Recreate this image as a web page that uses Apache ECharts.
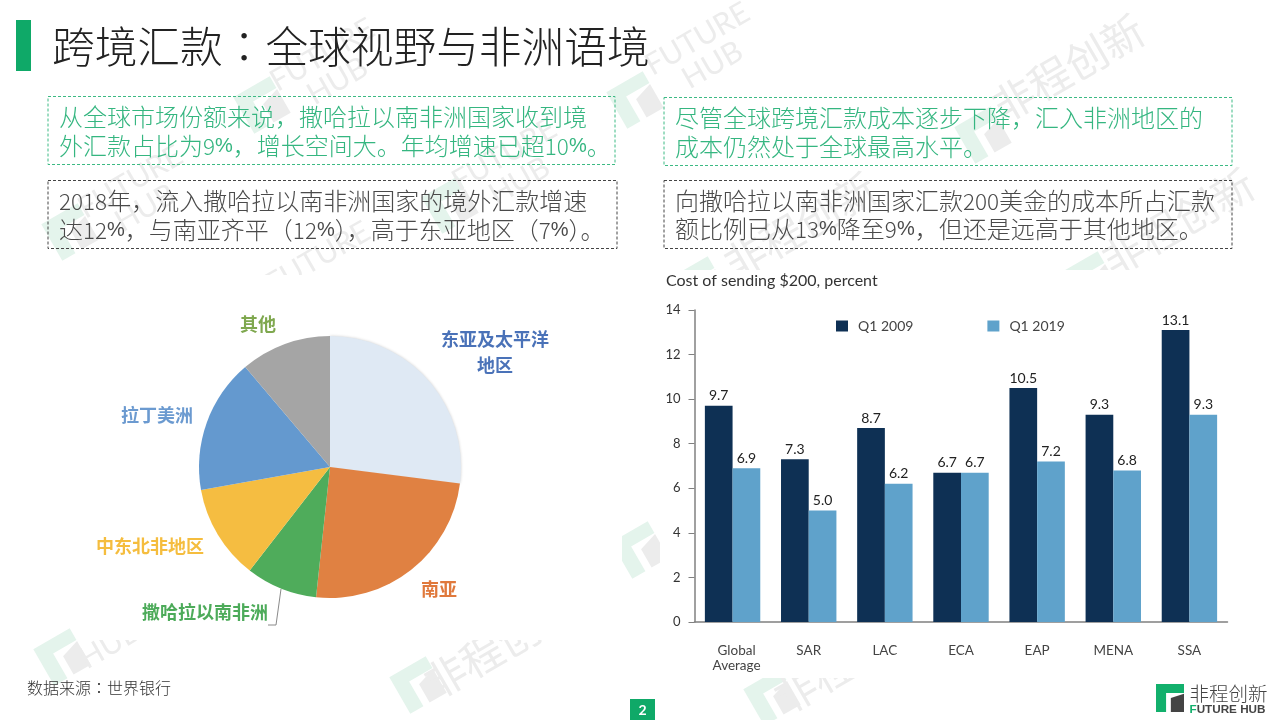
<!DOCTYPE html>
<html>
<head>
<meta charset="utf-8">
<script src="https://cdn.jsdelivr.net/npm/echarts@6/dist/echarts.min.js"></script>
<style>
html, body { margin: 0; padding: 0; background: #fff; }
#main { width: 1280px; height: 720px; }
</style>
</head>
<body>
<div id="main"></div>
<script>
// pie: share of remittance inflows
var regions = ['东亚及太平洋\n地区', '南亚', '撒哈拉以南非洲', '中东北非地区', '拉丁美洲', '其他'];
var regionShares = [27, 24.7, 8.8, 11.7, 16.6, 11.2];

// bars: cost of sending $200
var corridors = ['Global\nAverage', 'SAR', 'LAC', 'ECA', 'EAP', 'MENA', 'SSA'];
var q12009 = [9.7, 7.3, 8.7, 6.7, 10.5, 9.3, 13.1];
var q12019 = [6.9, 5.0, 6.2, 6.7, 7.2, 6.8, 9.3];

var green = '#0fa968';
var cjk = '"Noto Sans CJK SC", sans-serif';
var latin = 'Lato, sans-serif';

var sliceColors = ['#dfe9f4', '#e08142', '#4fac5b', '#f5bd41', '#6499cf', '#a5a5a5'];
var labelColors = ['#4a72b8', '#e0793c', '#4dab5a', '#f5bd3e', '#6b9ad0', '#7fa84f'];
var labelPos = [[495, 352], [439, 589], [205, 612], [150, 546], [157, 415], [258, 324]];

var elements = [];

function poly(points, fill, x, y, size, rot, z) {
    elements.push({
        type: 'polygon',
        x: x, y: y, rotation: rot || 0,
        z: z || 0,
        shape: { points: points.map(function (p) { return [(p[0] - 0.5) * size, (p[1] - 0.5) * size]; }) },
        style: { fill: fill }
    });
}

var logoGreen = [[0, 0], [1, 0], [1, 0.32], [0.36, 0.32], [0.36, 1], [0, 1]];
var logoGray = [[0.53, 0.5], [1, 0.35], [1, 1], [0.53, 1]];

// faint watermark stamps behind the text
function logoMark(x, y) {
    poly(logoGreen, '#e4f4ec', x, y, 42, Math.PI / 6);
    poly(logoGray, '#ececec', x, y, 42, Math.PI / 6);
}

function markText(x, y, str, size) {
    elements.push({
        type: 'text', x: x, y: y, rotation: Math.PI / 6,
        style: { text: str, fill: '#ececec', font: size + 'px ' + (size > 30 ? cjk : latin), align: 'center', verticalAlign: 'middle', lineHeight: size }
    });
}

logoMark(262, 105); markText(330, 68, 'FUTURE\nHUB', 30);
logoMark(635, 100); markText(705, 52, 'FUTURE\nHUB', 30);
logoMark(983, 135); markText(1068, 68, '非程创新', 42);
logoMark(70, 232); markText(138, 195, 'FUTURE\nHUB', 30);
logoMark(450, 205); markText(512, 168, 'FUTURE\nHUB', 30);
markText(318, 258, 'FUTURE', 30);
logoMark(700, 285); markText(800, 226, '非程创新', 42);
logoMark(1090, 280); markText(1178, 222, '非程创新', 42);
logoMark(640, 550); markText(700, 515, '非程', 42);
logoMark(62, 657); markText(110, 645, 'HUB', 30);
logoMark(418, 685); markText(500, 645, '非程创新', 42);
logoMark(772, 697); markText(850, 660, '非程创新', 42);

// the two charts sit on opaque white panels
elements.push({ type: 'rect', shape: { x: 92, y: 275, width: 530, height: 365 }, style: { fill: '#fff' } });
elements.push({ type: 'rect', shape: { x: 660, y: 270, width: 580, height: 408 }, style: { fill: '#fff' } });

// header
elements.push({ type: 'rect', shape: { x: 16, y: 20, width: 15, height: 51 }, style: { fill: green } });
elements.push({
    type: 'text', x: 52, y: 47,
    style: {
        text: '{a|跨境汇款}{c|：}{a|全球视野与非洲语境}',
        verticalAlign: 'middle',
        rich: {
            a: { font: '300 42.7px ' + cjk, fill: '#222' },
            c: { font: '300 42.7px "Noto Sans CJK TC", sans-serif', fill: '#222' }
        }
    }
});

// digits and the percent sign run narrower than the CJK text in the original
function richLine(line) {
    return line.replace(/[0-9]+/g, '{n|$&}').replace(/%/g, '{p|%}');
}

function noteBox(x, y, w, h, color, stroke, lines, lineYs) {
    elements.push({
        type: 'rect',
        shape: { x: x, y: y, width: w, height: h },
        style: { fill: 'transparent', stroke: stroke, lineWidth: 1, lineDash: [3, 2] }
    });
    lines.forEach(function (line, i) {
        elements.push({
            type: 'text', x: x + 11, y: lineYs[i],
            style: {
                text: richLine(line),
                fill: color,
                font: '300 24px ' + cjk,
                verticalAlign: 'middle',
                rich: {
                    n: { font: '300 22.5px ' + cjk, fill: color },
                    p: { font: '20px "Liberation Sans Narrow", sans-serif', fill: color }
                }
            }
        });
    });
}

noteBox(48, 96.5, 567, 68, '#35b680', '#3dba84',
    ['从全球市场份额来说，撒哈拉以南非洲国家收到境', '外汇款占比为9%，增长空间大。年均增速已超10%。'], [117, 146]);
noteBox(48, 180.5, 569, 68, '#4a4a4a', '#444',
    ['2018年，流入撒哈拉以南非洲国家的境外汇款增速', '达12%，与南亚齐平（12%），高于东亚地区（7%）。'], [201, 230]);
noteBox(664, 97.5, 568, 68, '#35b680', '#3dba84',
    ['尽管全球跨境汇款成本逐步下降，汇入非洲地区的', '成本仍然处于全球最高水平。'], [118, 147]);
noteBox(664, 180.5, 568, 68, '#4a4a4a', '#444',
    ['向撒哈拉以南非洲国家汇款200美金的成本所占汇款', '额比例已从13%降至9%，但还是远高于其他地区。'], [201, 229]);

// footer
elements.push({
    type: 'text', x: 27, y: 688,
    style: {
        text: '{a|数据来源}{c|：}{a|世界银行}',
        verticalAlign: 'middle',
        rich: {
            a: { font: '300 16px ' + cjk, fill: '#333' },
            c: { font: '300 16px "Noto Sans CJK TC", sans-serif', fill: '#333' }
        }
    }
});
elements.push({ type: 'rect', shape: { x: 630, y: 699, width: 25, height: 21 }, style: { fill: green } });
elements.push({
    type: 'text', x: 642.5, y: 710,
    style: { text: '2', fill: '#fff', font: 'bold 14px ' + latin, align: 'center', verticalAlign: 'middle' }
});

// corner logo
poly(logoGreen, '#12b06c', 1170, 698, 28);
poly(logoGray, '#444', 1170, 698, 28);
elements.push({
    type: 'text', x: 1189.5, y: 694,
    style: { text: '非程创新', fill: '#444', font: '300 19.5px ' + cjk, verticalAlign: 'middle' }
});
elements.push({
    type: 'text', x: 1189.5, y: 709.5,
    style: {
        text: '{f|F}{r|UTURE HUB}',
        verticalAlign: 'middle',
        rich: {
            f: { font: 'bold 11.7px "Liberation Sans", sans-serif', fill: '#12b06c' },
            r: { font: 'bold 11.7px "Liberation Sans", sans-serif', fill: '#444' }
        }
    }
});

function valueLabel() {
    return {
        show: true,
        position: 'top',
        distance: 3,
        color: '#222',
        fontFamily: latin,
        fontSize: 14,
        formatter: function (p) { return p.value.toFixed(1); }
    };
}

var option = {
    animation: false,
    backgroundColor: '#fff',
    graphic: { elements: elements },
    title: {
        text: 'Cost of sending $200, percent',
        left: 666,
        top: 273,
        padding: 0,
        textStyle: { color: '#333', fontFamily: latin, fontSize: 16, fontWeight: 'normal' }
    },
    legend: {
        left: 836,
        top: 319,
        padding: 0,
        itemWidth: 12,
        itemHeight: 11,
        itemGap: 74,
        icon: 'rect',
        data: ['Q1 2009', 'Q1 2019'],
        textStyle: { color: '#444', fontFamily: latin, fontSize: 14, padding: [0, 0, 0, 5] }
    },
    grid: { left: 694.5, top: 310, width: 533, height: 312 },
    xAxis: {
        type: 'category',
        data: corridors.map(function (c, i) {
            // the two-line label sits a little right of its bars
            return i === 0 ? { value: c, textStyle: { padding: [0, 0, 0, 8] } } : c;
        }),
        axisTick: { show: false },
        axisLine: { lineStyle: { color: '#808080', width: 1.5 } },
        axisLabel: { margin: 21, color: '#444', fontFamily: latin, fontSize: 13.5, lineHeight: 15, interval: 0 }
    },
    yAxis: {
        type: 'value',
        min: 0,
        max: 14,
        interval: 2,
        splitLine: { show: false },
        axisLine: { show: true, lineStyle: { color: '#808080', width: 1.5 } },
        axisTick: { show: true, length: 6, lineStyle: { color: '#808080', width: 1 } },
        axisLabel: { margin: 14, color: '#333', fontFamily: latin, fontSize: 13 }
    },
    series: [
        {
            name: 'Q1 2009',
            type: 'bar',
            data: q12009,
            barWidth: 27.7,
            barGap: 0,
            itemStyle: { color: '#0e3054' },
            label: valueLabel()
        },
        {
            name: 'Q1 2019',
            type: 'bar',
            data: q12019,
            barWidth: 27.7,
            itemStyle: { color: '#5fa2cb' },
            label: valueLabel()
        },
        {
            type: 'pie',
            center: [330, 467],
            radius: 131,
            startAngle: 90,
            clockwise: true,
            silent: true,
            labelLine: { show: false },
            labelLayout: function (params) {
                var p = labelPos[params.dataIndex];
                var out = { x: p[0], y: p[1], align: 'center', verticalAlign: 'middle' };
                if (params.dataIndex === 2) {
                    out.labelLinePoints = [[281, 589], [276, 625], [268, 625]];
                }
                return out;
            },
            data: regions.map(function (name, i) {
                var d = {
                    name: name,
                    value: regionShares[i],
                    itemStyle: { color: sliceColors[i] },
                    label: {
                        show: true,
                        position: 'outside',
                        formatter: '{b}',
                        color: labelColors[i],
                        fontFamily: cjk,
                        fontWeight: 'bold',
                        fontSize: 18,
                        lineHeight: 26
                    }
                };
                if (i === 0) {
                    // only the pale slice needs its soft edge against the white
                    d.itemStyle.shadowBlur = 3;
                    d.itemStyle.shadowColor = 'rgba(0,0,0,0.2)';
                }
                if (i === 2) {
                    d.labelLine = { show: true, lineStyle: { color: '#8a8a8a', width: 1 } };
                }
                return d;
            })
        }
    ]
};

var myChart = echarts.init(document.getElementById('main'));
myChart.setOption(option, true);
</script>
</body>
</html>
